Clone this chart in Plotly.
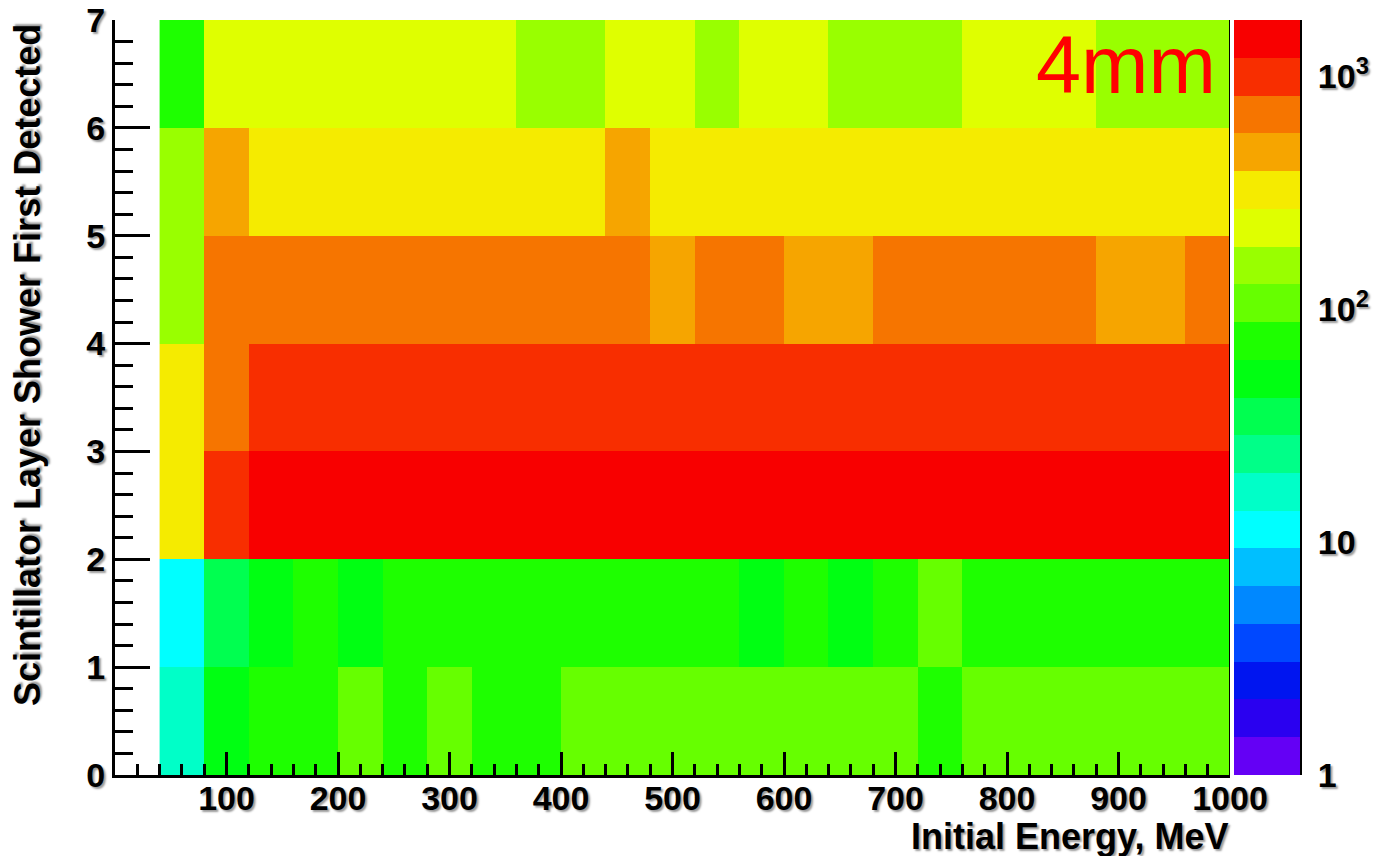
import numpy as np
import plotly.graph_objects as go

# ---- data ----
energy_edges = [40, 80, 120, 160, 200, 240, 280, 320, 360, 400, 440, 480, 520,
                560, 600, 640, 680, 720, 760, 800, 840, 880, 920, 960, 1000]
layer_edges = [0, 1, 2, 3, 4, 5, 6, 7]

# counts per energy bin (40-80, 80-120, ..., 960-1000) for each layer
layer0 = [16, 50, 74, 72, 105, 74, 106, 73, 75, 104, 106, 105, 104, 106, 105, 104, 106, 74, 105, 104, 106, 105, 104, 106]
layer1 = [11, 35, 52, 72, 51, 74, 73, 75, 74, 73, 75, 74, 73, 51, 74, 52, 73, 104, 74, 73, 75, 74, 73, 74]
layer2 = [330, 990, 1450, 1460, 1440, 1450, 1460, 1450, 1440, 1450, 1460, 1450, 1440, 1450, 1460, 1450, 1440, 1450, 1460, 1450, 1440, 1450, 1460, 1450]
layer3 = [320, 680, 985, 990, 980, 985, 990, 980, 985, 990, 980, 985, 990, 980, 985, 990, 980, 985, 990, 980, 985, 990, 980, 985]
layer4 = [155, 680, 690, 685, 680, 690, 685, 680, 690, 685, 680, 470, 680, 690, 475, 470, 685, 680, 690, 685, 680, 475, 470, 680]
layer5 = [155, 470, 320, 325, 330, 320, 325, 330, 320, 325, 470, 320, 325, 330, 320, 325, 330, 320, 325, 330, 320, 325, 330, 320]
layer6 = [74, 225, 230, 225, 220, 225, 230, 225, 155, 160, 225, 230, 155, 225, 230, 155, 160, 155, 225, 230, 225, 155, 160, 155]

counts = [layer0, layer1, layer2, layer3, layer4, layer5, layer6]

count_max = 1740
cbar_tickvals = [1, 10, 100, 1000]
cbar_ticktext = ["1", "10", "10<sup>2</sup>", "10<sup>3</sup>"]
cbar_minor = [2, 3, 4, 5, 6, 7, 8, 9, 20, 30, 40, 50, 60, 70, 80, 90,
              200, 300, 400, 500, 600, 700, 800, 900]
x_tickvals = [100, 200, 300, 400, 500, 600, 700, 800, 900, 1000]
y_tickvals = [0, 1, 2, 3, 4, 5, 6, 7]

palette = ["#6400F5", "#2A00F0", "#0015F0", "#0048FF", "#0088FF", "#00BFFF",
           "#00FFFF", "#00FFC8", "#00FF88", "#00FF50", "#00FF12", "#1EFF00",
           "#66FF00", "#99FF00", "#DFFF00", "#F5EB00", "#F6A500", "#F67500",
           "#F82E00", "#F80000"]

# ---- figure ----
n = len(palette)
colorscale = []
for i, c in enumerate(palette):
    colorscale.append([i / n, c])
    colorscale.append([(i + 1) / n, c])

z = np.log10(np.array(counts, dtype=float))
zmax = np.log10(count_max)

W, H = 1373, 856
ml, mr, mt, mb = 115, 73, 20, 81
plot_w = W - ml - mr
plot_h = H - mt - mb
x_dom_end = 1115 / plot_w

font_fam = "Liberation Sans, Arial, Helvetica, sans-serif"
shadow = "2px 2px 2px #9a9a9a"
tfont = dict(family=font_fam, size=34, color="black", weight="bold", shadow=shadow)
titlefont = dict(family=font_fam, size=36, color="black", weight="bold", shadow=shadow)

fig = go.Figure()
fig.add_trace(go.Heatmap(
    x=energy_edges, y=layer_edges, z=z, zmin=0, zmax=zmax,
    colorscale=colorscale, hoverinfo="skip",
    colorbar=dict(x=(1234 - ml) / plot_w, xanchor="left", xpad=0, ypad=0,
                  thickness=66, thicknessmode="pixels", len=1, lenmode="fraction",
                  y=0.5, yanchor="middle", outlinewidth=0,
                  showticklabels=False, ticks=""),
))
fig.add_trace(go.Scatter(x=[500], y=[1], xaxis="x", yaxis="y2", mode="markers",
                         marker=dict(opacity=0), showlegend=False, hoverinfo="skip"))

fig.update_layout(
    width=W, height=H,
    margin=dict(l=ml, r=mr, t=mt, b=mb, autoexpand=False),
    paper_bgcolor="white", plot_bgcolor="white",
    showlegend=False,
    xaxis=dict(domain=[0, x_dom_end], range=[0, 1000], tickmode="array",
               tickvals=x_tickvals, ticks="inside", ticklen=23, tickwidth=3,
               tickcolor="black", showline=True, linewidth=3, linecolor="black",
               showgrid=False, zeroline=False, tickfont=tfont, automargin=False,
               ticklabelstandoff=-9,
               minor=dict(tickmode="linear", tick0=0, dtick=20, ticks="inside",
                          ticklen=11, tickwidth=3, tickcolor="black", showgrid=False)),
    yaxis=dict(range=[0, 7], tickmode="array", tickvals=y_tickvals,
               ticks="inside", ticklen=35, tickwidth=3, tickcolor="black",
               showline=True, linewidth=3, linecolor="black", showgrid=False,
               zeroline=False, tickfont=tfont, automargin=False,
               minor=dict(tickmode="linear", tick0=0, dtick=0.2, ticks="inside",
                          ticklen=18, tickwidth=3, tickcolor="black", showgrid=False)),
    yaxis2=dict(type="log", range=[0, zmax], overlaying="y", anchor="free",
                position=1.0, side="right", tickmode="array",
                tickvals=cbar_tickvals, ticktext=cbar_ticktext,
                ticks="inside", ticklen=35, tickwidth=3, tickcolor="black",
                showline=True, linewidth=3, linecolor="black", showgrid=False,
                zeroline=False, tickfont=tfont, automargin=False,
                ticklabelstandoff=9,
                minor=dict(tickmode="array", tickvals=cbar_minor, ticks="inside",
                           ticklen=18, tickwidth=3, tickcolor="black", showgrid=False)),
)

fig.add_shape(type="line", xref="x", yref="y", x0=1000, x1=1000, y0=0, y1=7,
              line=dict(color="black", width=2))

fig.add_annotation(text="Initial Energy, MeV", xref="paper", yref="paper",
                   x=x_dom_end, y=-(836 - 775) / plot_h, xanchor="right",
                   yanchor="middle", showarrow=False, font=titlefont)
fig.add_annotation(text="Scintillator Layer Shower First Detected", xref="paper",
                   yref="paper", x=-(ml - 27) / plot_w, y=1 - (22 - mt) / plot_h,
                   xanchor="center", yanchor="top", textangle=-90, showarrow=False,
                   font=titlefont)
fig.add_annotation(text="4mm", xref="x", yref="y", x=989, y=6.58,
                   xanchor="right", yanchor="middle", showarrow=False,
                   font=dict(family=font_fam, size=81, color="#FF0000"))

fig.write_html("out.html")
